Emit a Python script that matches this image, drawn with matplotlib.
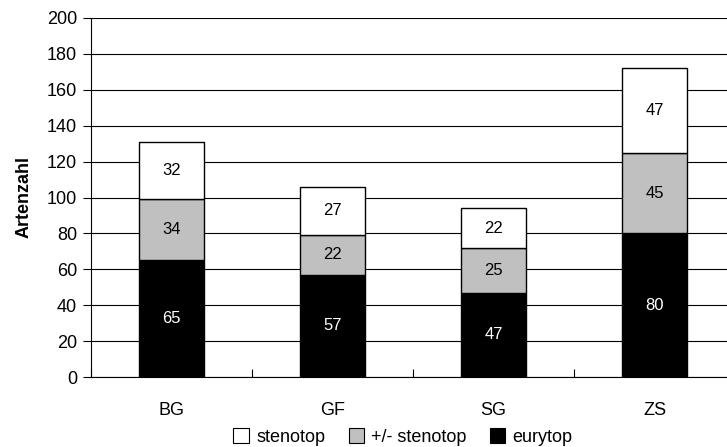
import matplotlib
matplotlib.use("Agg")
from matplotlib import pyplot as plt
from matplotlib.patches import Patch
import numpy as np

plt.rcParams['font.family'] = ['Liberation Sans', 'DejaVu Sans']

sites = ["BG", "GF", "SG", "ZS"]
eurytop = [65, 57, 47, 80]
mid_stenotop = [34, 22, 25, 45]
stenotop = [32, 27, 22, 47]

fig = plt.figure(figsize=(7.27, 4.47), dpi=100)
ax = fig.add_axes([91/727, 1 - 377/447, 644/727, 359/447])

x = np.arange(len(sites))
w = 0.4
b1 = ax.bar(x, eurytop, w, color='black', edgecolor='black', lw=1, zorder=3)
b2 = ax.bar(x, mid_stenotop, w, bottom=eurytop, color='#c0c0c0', edgecolor='black', lw=1, zorder=3)
bot3 = np.array(eurytop) + np.array(mid_stenotop)
b3 = ax.bar(x, stenotop, w, bottom=bot3, color='white', edgecolor='black', lw=1, zorder=3)

for bars, vals, bots, col in [(b1, eurytop, [0]*4, 'white'),
                              (b2, mid_stenotop, eurytop, 'black'),
                              (b3, stenotop, bot3, 'black')]:
    for xi, v, b in zip(x, vals, bots):
        ax.text(xi, b + v / 2, str(v), ha='center', va='center', fontsize=12, color=col, zorder=4)

ax.set_xlim(-0.5, 3.5)
ax.set_ylim(0, 200)
ax.set_yticks(range(0, 201, 20))
ax.yaxis.grid(True, color='black', lw=0.8, zorder=0)
ax.set_xticks(x)
ax.set_xticklabels(sites, fontsize=13)
ax.set_xticks(np.arange(-0.5, 4, 1), minor=True)
ax.tick_params(axis='x', which='major', length=0, pad=18)
ax.tick_params(axis='x', which='minor', length=6, direction='in', width=0.8)
ax.tick_params(axis='y', labelsize=13, length=6, direction='out', width=0.8, pad=4)
for s in ['top', 'right']:
    ax.spines[s].set_visible(False)
ax.spines['left'].set_linewidth(0.8)
ax.spines['bottom'].set_linewidth(0.8)
ax.set_ylabel("Artenzahl", fontsize=13, fontweight='bold', labelpad=10)

handles = [Patch(facecolor='white', edgecolor='black', lw=0.8),
           Patch(facecolor='#c0c0c0', edgecolor='black', lw=0.8),
           Patch(facecolor='black', edgecolor='black', lw=0.8)]
fig.legend(handles, ["stenotop", "+/- stenotop", "eurytop"], loc='center',
           bbox_to_anchor=(403/727, 1 - 437/447), ncol=3, frameon=False,
           fontsize=13, handlelength=0.85, handleheight=0.85, handletextpad=0.4,
           columnspacing=1.3)

fig.savefig("out.png", dpi=100)
